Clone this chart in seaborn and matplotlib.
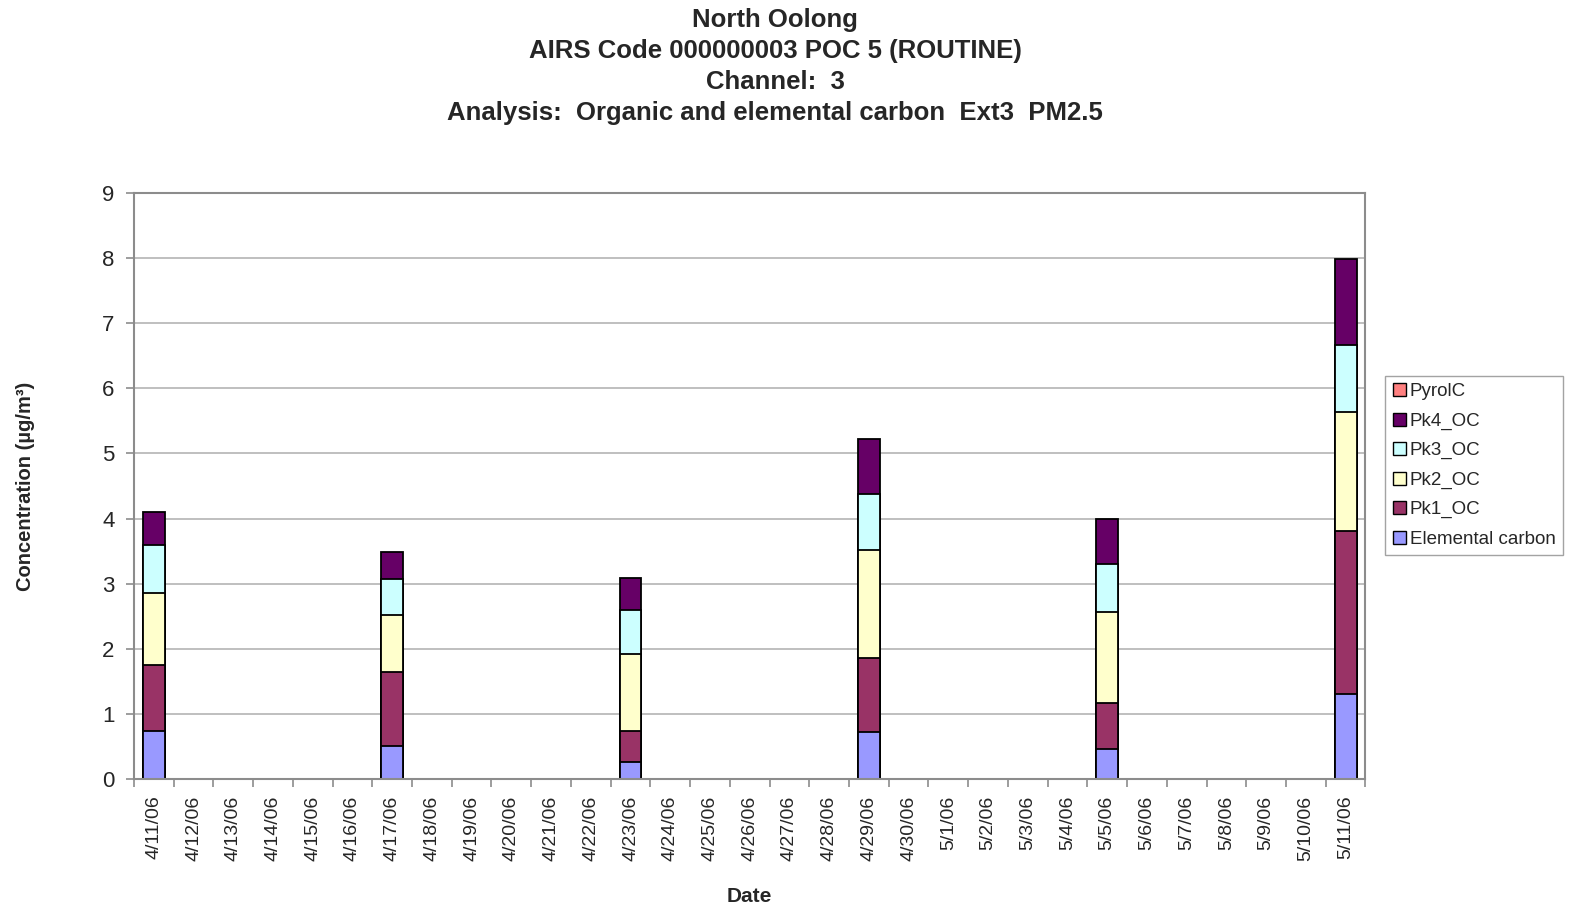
import matplotlib
matplotlib.use("Agg")
import matplotlib.pyplot as plt
from matplotlib.patches import Patch
from matplotlib.ticker import FixedLocator, NullFormatter
import numpy as np
import pandas as pd
import seaborn as sns

# Category axis: every calendar day in the period
all_dates = [
    "4/11/06", "4/12/06", "4/13/06", "4/14/06", "4/15/06", "4/16/06", "4/17/06",
    "4/18/06", "4/19/06", "4/20/06", "4/21/06", "4/22/06", "4/23/06", "4/24/06",
    "4/25/06", "4/26/06", "4/27/06", "4/28/06", "4/29/06", "4/30/06", "5/1/06",
    "5/2/06", "5/3/06", "5/4/06", "5/5/06", "5/6/06", "5/7/06", "5/8/06",
    "5/9/06", "5/10/06", "5/11/06",
]

# Sampling days and carbon fractions (µg/m³)
sample_dates = ["4/11/06", "4/17/06", "4/23/06", "4/29/06", "5/5/06", "5/11/06"]
elemental_carbon = [0.74, 0.51, 0.26, 0.72, 0.46, 1.31]
pk1_oc = [1.01, 1.13, 0.47, 1.14, 0.71, 2.50]
pk2_oc = [1.11, 0.88, 1.19, 1.65, 1.39, 1.82]
pk3_oc = [0.73, 0.55, 0.67, 0.86, 0.74, 1.04]
pk4_oc = [0.51, 0.41, 0.49, 0.85, 0.69, 1.32]
pyrol_c = [0.0, 0.0, 0.0, 0.0, 0.0, 0.0]

series_names = ["Elemental carbon", "Pk1_OC", "Pk2_OC", "Pk3_OC", "Pk4_OC", "PyrolC"]
series_colors = ["#9999FF", "#993366", "#FFFFCC", "#CCFFFF", "#660066", "#FF8080"]

sns.set_theme(style="white")
plt.rcParams["font.family"] = ["Liberation Sans", "DejaVu Sans"]

fig = plt.figure(figsize=(15.72, 9.08), dpi=100)
ax = fig.add_axes([0.0852, 0.1421, 0.7834, 0.6453])

# Stacked bars: draw cumulative totals from the top layer down
layers = [elemental_carbon, pk1_oc, pk2_oc, pk3_oc, pk4_oc, pyrol_c]
cum = np.cumsum(np.array(layers), axis=0)
df = pd.DataFrame({"date": sample_dates})
for i, name in enumerate(series_names):
    df[name] = cum[i]

for i in range(len(series_names) - 1, -1, -1):
    if np.allclose(layers[i], 0):
        continue
    sns.barplot(
        data=df, x="date", y=series_names[i], order=all_dates,
        color=series_colors[i], saturation=1, edgecolor="black",
        linewidth=1.3, width=0.55, errorbar=None, ax=ax,
    )

ax.set_ylim(0, 9)
ax.set_xlim(-0.5, len(all_dates) - 0.5)
ax.set_yticks(range(0, 10))
ax.yaxis.grid(True, color="#b4b4b4", linewidth=1.2)
ax.xaxis.grid(False)
ax.set_axisbelow(True)

for side in ["left", "bottom", "top", "right"]:
    ax.spines[side].set_color("#8c8c8c")
    ax.spines[side].set_linewidth(1.5)

ax.set_xticks(range(len(all_dates)))
ax.set_xticklabels(all_dates, rotation=90, fontsize=14)
ax.xaxis.set_minor_locator(FixedLocator(np.arange(-0.5, len(all_dates), 1.0)))
ax.xaxis.set_minor_formatter(NullFormatter())
ax.tick_params(axis="x", which="major", length=0, pad=12)
ax.tick_params(axis="x", which="minor", length=6, width=1.2, color="#8c8c8c", direction="out", bottom=True)
ax.tick_params(axis="y", length=6, width=1.2, color="#8c8c8c", direction="out", left=True, labelsize=16, pad=8)

ax.set_xlabel("Date", fontsize=15, fontweight="bold", labelpad=19)
ax.set_ylabel("Concentration (µg/m³)", fontsize=14.5, fontweight="bold", labelpad=48)

fig.text(0.493, 0.991, "North Oolong\nAIRS Code 000000003 POC 5 (ROUTINE)\nChannel:  3\n"
         "Analysis:  Organic and elemental carbon  Ext3  PM2.5",
         ha="center", va="top", fontsize=18.5, fontweight="bold", linespacing=1.36)

handles = [Patch(facecolor=c, edgecolor="black", linewidth=1.0, label=n)
           for n, c in zip(series_names, series_colors)][::-1]
leg = ax.legend(handles=handles, loc="center left", bbox_to_anchor=(1.016, 0.535),
                fontsize=13.5, frameon=True, fancybox=False, handlelength=0.7,
                handleheight=0.7, handletextpad=0.2, labelspacing=0.65,
                borderpad=0.4, borderaxespad=0)
leg.get_frame().set_edgecolor("#8c8c8c")
leg.get_frame().set_linewidth(1.0)

fig.savefig("out.png", dpi=100)
